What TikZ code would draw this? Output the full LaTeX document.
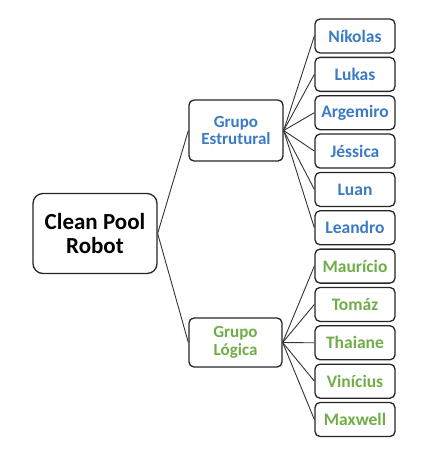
\documentclass[tikz,border=0pt]{standalone}
\usepackage{fontspec}
\setmainfont{Carlito}
\definecolor{cblue}{HTML}{3A7BC4}
\definecolor{cgreen}{HTML}{70AD47}
\begin{document}
\begin{tikzpicture}[x=1pt,y=-1pt,
  box/.style={draw=black!85,line width=1.3pt,rounded corners=5pt,fill=white,align=center,font=\bfseries\fontsize{17.5}{18}\selectfont,inner sep=0pt},
  leaf/.style={box,minimum width=80pt,minimum height=34pt},
  grp/.style={box,minimum width=94pt,minimum height=61pt,font=\bfseries\fontsize{17}{17.5}\selectfont},
  conn/.style={draw=black!80,line width=0.9pt}]
\useasboundingbox (0,0) rectangle (431,450);
\node[box,minimum width=124pt,minimum height=80pt,rounded corners=10pt,font=\bfseries\fontsize{23}{24}\selectfont] (root) at (95,233.5) {Clean Pool\\Robot};
\node[grp,text=cblue] (ge) at (236,130.5) {Grupo\\Estrutural};
\node[grp,text=cgreen,minimum height=49pt,minimum width=93pt] (gl) at (235.5,342.5) {Grupo\\Lógica};
\foreach \n/\t [count=\i from 0] in {n0/Níkolas,n1/Lukas,n2/Argemiro,n3/Jéssica,n4/Luan,n5/Leandro}
  \node[leaf,text=cblue] (\n) at (355,36+38.35*\i) {\t};
\foreach \n/\t [count=\i from 6] in {n6/Maurício,n7/Tomáz,n8/Thaiane,n9/Vinícius,n10/Maxwell}
  \node[leaf,text=cgreen] (\n) at (355,36+38.35*\i) {\t};
\draw[conn] (root.east) -- (ge.west);
\draw[conn] (root.east) -- (gl.west);
\foreach \n in {n0,n1,n2,n3,n4,n5} \draw[conn] (ge.east) -- (\n.west);
\foreach \n in {n6,n7,n8,n9,n10} \draw[conn] (gl.east) -- (\n.west);
\end{tikzpicture}
\end{document}
